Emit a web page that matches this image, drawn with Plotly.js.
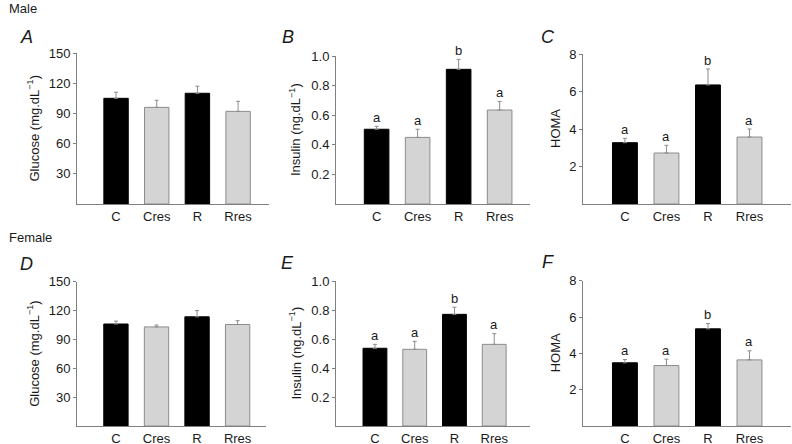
<!DOCTYPE html>
<html>
<head>
<meta charset="utf-8">
<script src="https://cdn.plot.ly/plotly-3.0.1.min.js"></script>
<style>html,body{margin:0;padding:0;background:#fff;}#chart{width:792px;height:444px;}</style>
</head>
<body>
<div id="chart"></div>
<script>
// ---- data ----
const categories = ['C', 'Cres', 'R', 'Rres'];
const maleGlucose = [105, 96, 110, 92];
const maleGlucoseErr = [6, 7, 7, 10];
const maleInsulin = [0.505, 0.45, 0.91, 0.635];
const maleInsulinErr = [0.02, 0.055, 0.067, 0.058];
const maleHoma = [3.27, 2.72, 6.35, 3.57];
const maleHomaErr = [0.23, 0.41, 0.85, 0.43];
const femaleGlucose = [106, 103, 113.5, 105.5];
const femaleGlucoseErr = [3, 2, 6.5, 4];
const femaleInsulin = [0.536, 0.529, 0.77, 0.563];
const femaleInsulinErr = [0.027, 0.055, 0.049, 0.074];
const femaleHoma = [3.48, 3.33, 5.35, 3.64];
const femaleHomaErr = [0.18, 0.35, 0.29, 0.5];
const maleInsulinLetters = ['a', 'a', 'b', 'a'];
const maleHomaLetters = ['a', 'a', 'b', 'a'];
const femaleInsulinLetters = ['a', 'a', 'b', 'a'];
const femaleHomaLetters = ['a', 'a', 'b', 'a'];
const glucoseTicks = [30, 60, 90, 120, 150];
const insulinTicks = [0.2, 0.4, 0.6, 0.8, 1.0];
const insulinTickText = ['0.2', '0.4', '0.6', '0.8', '1.0'];
const homaTicks = [2, 4, 6, 8];

// ---- styling ----
const W = 792, H = 444;
const FONT = 'Liberation Sans, Arial, Helvetica, sans-serif';
const barFill = ['#000000', '#d4d4d4', '#000000', '#d4d4d4'];
const barLine = ['#000000', '#8c8c8c', '#000000', '#8c8c8c'];
const axisColor = '#808080';
const TXT = '#1a1a1a';
const px = v => v / W;
const py = v => 1 - v / H;

const panels = [
  {n: 1, vals: maleGlucose, err: maleGlucoseErr, letters: null, x0: 77, x1: 269, y0: 204, y1: 53, xr: [-0.96, 3.76], yr: [0, 150], ticks: glucoseTicks, ticktext: null, title: 'Glucose (mg.dL<sup>−1</sup>)', tx: 33, lab: 'A', lx: 27, ly: 37},
  {n: 2, vals: maleInsulin, err: maleInsulinErr, letters: maleInsulinLetters, x0: 336, x1: 530, y0: 204, y1: 56, xr: [-0.99, 3.74], yr: [0, 1.0], ticks: insulinTicks, ticktext: insulinTickText, title: 'Insulin (ng.dL<sup>−1</sup>)', tx: 295, lab: 'B', lx: 288, ly: 37},
  {n: 3, vals: maleHoma, err: maleHomaErr, letters: maleHomaLetters, x0: 583, x1: 791, y0: 204, y1: 54, xr: [-1.01, 4.0], yr: [0, 8], ticks: homaTicks, ticktext: null, title: 'HOMA', tx: 555, lab: 'C', lx: 548, ly: 37},
  {n: 4, vals: femaleGlucose, err: femaleGlucoseErr, letters: null, x0: 77, x1: 266, y0: 426, y1: 281.7, xr: [-0.96, 3.7], yr: [0, 150], ticks: glucoseTicks, ticktext: null, title: 'Glucose (mg.dL<sup>−1</sup>)', tx: 33, lab: 'D', lx: 27, ly: 264},
  {n: 5, vals: femaleInsulin, err: femaleInsulinErr, letters: femaleInsulinLetters, x0: 336, x1: 530, y0: 426, y1: 281, xr: [-0.98, 3.9], yr: [0, 1.0], ticks: insulinTicks, ticktext: insulinTickText, title: 'Insulin (ng.dL<sup>−1</sup>)', tx: 295, lab: 'E', lx: 287, ly: 263},
  {n: 6, vals: femaleHoma, err: femaleHomaErr, letters: femaleHomaLetters, x0: 583, x1: 791, y0: 426, y1: 280.7, xr: [-1.01, 4.0], yr: [0, 8], ticks: homaTicks, ticktext: null, title: 'HOMA', tx: 555, lab: 'F', lx: 548, ly: 262}
];

const data = [];
const layout = {
  width: W, height: H,
  margin: {l: 0, r: 0, t: 0, b: 0},
  paper_bgcolor: '#ffffff', plot_bgcolor: 'rgba(0,0,0,0)',
  showlegend: false,
  font: {family: FONT, size: 13, color: TXT},
  annotations: []
};

panels.forEach(p => {
  const sx = p.n === 1 ? '' : String(p.n);
  data.push({
    type: 'bar',
    x: categories,
    y: p.vals,
    width: 0.6,
    xaxis: 'x' + sx, yaxis: 'y' + sx,
    marker: {color: barFill, line: {color: barLine, width: 1}},
    error_y: {type: 'data', symmetric: false, array: p.err, arrayminus: p.err.map(() => 0), color: '#8c8c8c', thickness: 1, width: 2},
    hoverinfo: 'none'
  });
  layout['xaxis' + sx] = {
    domain: [px(p.x0), px(p.x1)],
    anchor: 'y' + sx,
    type: 'category',
    range: p.xr,
    showline: true, linecolor: axisColor, linewidth: 1,
    ticks: '', showgrid: false, zeroline: false,
    tickfont: {family: FONT, size: 13, color: TXT},
    fixedrange: true
  };
  const ya = {
    domain: [py(p.y0), py(p.y1)],
    anchor: 'x' + sx,
    range: p.yr,
    showline: true, linecolor: axisColor, linewidth: 1,
    ticks: 'outside', ticklen: 3, tickcolor: axisColor, tickwidth: 1,
    tickvals: p.ticks,
    showgrid: false, zeroline: false,
    tickfont: {family: FONT, size: 13, color: TXT},
    fixedrange: true
  };
  if (p.ticktext) ya.ticktext = p.ticktext;
  layout['yaxis' + sx] = ya;

  layout.annotations.push({
    xref: 'paper', yref: 'paper', x: px(p.tx), y: (py(p.y0) + py(p.y1)) / 2,
    text: p.title, textangle: -90, showarrow: false,
    xanchor: 'center', yanchor: 'middle',
    font: {family: FONT, size: 13, color: TXT}
  });
  layout.annotations.push({
    xref: 'paper', yref: 'paper', x: px(p.lx), y: py(p.ly),
    text: '<i>' + p.lab + '</i>', showarrow: false,
    xanchor: 'center', yanchor: 'middle',
    font: {family: FONT, size: 18, color: TXT}
  });
  if (p.letters) {
    p.letters.forEach((t, i) => {
      layout.annotations.push({
        xref: 'x' + sx, yref: 'y' + sx,
        x: categories[i], y: p.vals[i] + p.err[i],
        text: t, showarrow: false,
        xanchor: 'center', yanchor: 'middle', yshift: 9,
        font: {family: FONT, size: 13, color: TXT}
      });
    });
  }
});

layout.annotations.push({xref: 'paper', yref: 'paper', x: px(7), y: py(8), text: 'Male', showarrow: false, xanchor: 'left', yanchor: 'middle', font: {family: FONT, size: 13, color: TXT}});
layout.annotations.push({xref: 'paper', yref: 'paper', x: px(7), y: py(238), text: 'Female', showarrow: false, xanchor: 'left', yanchor: 'middle', font: {family: FONT, size: 13, color: TXT}});

Plotly.newPlot('chart', data, layout, {staticPlot: true, displayModeBar: false});
</script>
</body>
</html>
